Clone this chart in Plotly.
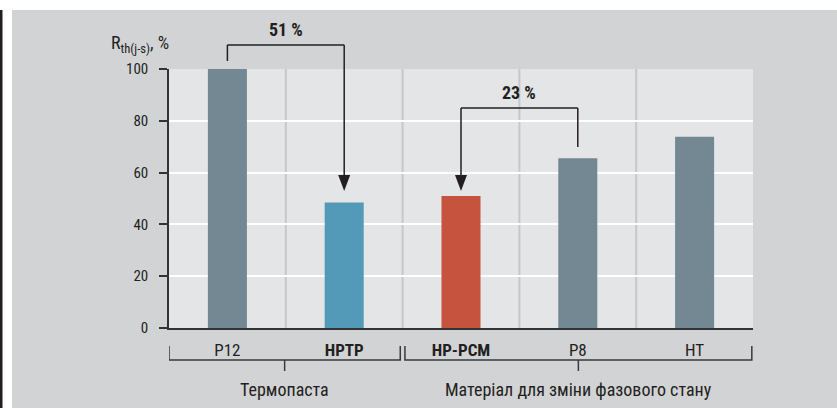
import plotly.graph_objects as go

# ---- data ----
categories = ["P12", "HPTP", "HP-PCM", "P8", "HT"]
tick_labels = ["P12", "<b>HPTP</b>", "<b>HP-PCM</b>", "P8", "HT"]
values = [100, 48.5, 51, 65.5, 73.8]
bar_colors = ["#738892", "#529ab8", "#c5533d", "#738892", "#738892"]
group_names = ["Термопаста", "Матеріал для зміни фазового стану"]
group_members = [[0, 1], [2, 3, 4]]
y_ticks = [0, 20, 40, 60, 80, 100]
comparisons = [  # (from index, to index, label)
    (0, 1, "51 %"),
    (3, 2, "23 %"),
]
bracket_levels = [109.3, 84.9]     # height of connecting line (data units)
start_levels = [103.1, 69.9]       # bottom of the non-arrow leg
tip_levels = [52.9, 52.9]          # arrow tip

W, H = 837, 408
ML, MR, MT, MB = 169, 84, 69, 80
PW, PH = W - ML - MR, H - MT - MB
YMAX = 100.0


def px_x(p):
    return (p - ML) / PW


def px_y(q):
    return (H - MB - q) / PH


def dy(v):  # data value -> paper fraction (so marks above the range are not clipped)
    return v / YMAX


FONT = "Liberation Sans Narrow, Roboto Condensed, Arial Narrow, sans-serif"
DARK = "#231f20"

fig = go.Figure()
fig.add_trace(go.Bar(
    x=categories, y=values, marker_color=bar_colors, marker_line_width=0,
    hoverinfo="skip", showlegend=False,
))

shapes = []
annotations = []

# vertical separators between categories
for i in range(len(categories) - 1):
    shapes.append(dict(type="line", xref="x", yref="paper", x0=i + 0.5, x1=i + 0.5,
                       y0=0, y1=1, line=dict(color="#c6c7ca", width=2), layer="between"))

# comparison brackets + arrows
for (a, b, lab), top, start, tip in zip(comparisons, bracket_levels, start_levels, tip_levels):
    ln = dict(color=DARK, width=1.5)
    shapes.append(dict(type="line", xref="x", yref="paper", x0=a, x1=a, y0=dy(start), y1=dy(top), line=ln))
    shapes.append(dict(type="line", xref="x", yref="paper", x0=a, x1=b, y0=dy(top), y1=dy(top), line=ln))
    shapes.append(dict(type="line", xref="x", yref="paper", x0=b, x1=b, y0=dy(top), y1=dy(tip) + 10 / PH, line=ln))
    shapes.append(dict(type="path", xref="x", yref="paper", xsizemode="pixel", ysizemode="pixel",
                       xanchor=b, yanchor=dy(tip), path="M-6,16 L6,16 L0,0 Z",
                       fillcolor=DARK, line=dict(width=0)))
    annotations.append(dict(xref="x", yref="paper", x=(a + b) / 2, y=dy(top), yshift=3,
                            text=f"<b>{lab}</b>", showarrow=False, yanchor="bottom",
                            font=dict(family=FONT, size=18, color=DARK)))

# group brackets under axis
gl = dict(color="#3a3a3c", width=1.5)
yb, yt, yc = px_y(360), px_y(346), px_y(371)
for gi, (name, mem) in enumerate(zip(group_names, group_members)):
    x0 = mem[0] - 0.5 + (0.02 if gi > 0 else 0)
    x1 = mem[-1] + 0.5 - (0.02 if gi < len(group_names) - 1 else 0.01)
    xm = (x0 + x1) / 2
    shapes.append(dict(type="path", xref="x", yref="paper",
                       path=f"M{x0},{yt} L{x0},{yb} L{x1},{yb} L{x1},{yt}", line=gl))
    shapes.append(dict(type="line", xref="x", yref="paper", x0=xm, x1=xm, y0=yb, y1=yc, line=gl))
    annotations.append(dict(xref="x", yref="paper", x=xm, y=px_y(389), text=name, showarrow=False,
                            yanchor="middle", font=dict(family=FONT, size=18, color=DARK)))

# y-axis title
annotations.append(dict(xref="paper", yref="paper", x=px_x(171), y=px_y(44),
                        text="R<sub>th(j-s)</sub>, %", showarrow=False, xanchor="right",
                        yanchor="middle", font=dict(family=FONT, size=18, color=DARK)))

# page frame: white strip on top, white margin and dark bar on the left
shapes.append(dict(type="rect", xref="paper", yref="paper", x0=px_x(-5), x1=px_x(W + 5),
                   y0=px_y(10), y1=px_y(-5), fillcolor="white", line=dict(width=0), layer="above"))
shapes.append(dict(type="rect", xref="paper", yref="paper", x0=px_x(-5), x1=px_x(12),
                   y0=px_y(H + 5), y1=px_y(-5), fillcolor="white", line=dict(width=0), layer="above"))
shapes.append(dict(type="rect", xref="paper", yref="paper", x0=px_x(-5), x1=px_x(2.5),
                   y0=px_y(H + 5), y1=px_y(10), fillcolor=DARK, line=dict(width=0), layer="above"))

fig.update_layout(
    width=W, height=H,
    margin=dict(l=ML, r=MR, t=MT, b=MB, pad=0),
    paper_bgcolor="#d2d3d5", plot_bgcolor="#e4e5e7",
    bargap=0.666,
    shapes=shapes, annotations=annotations,
    font=dict(family=FONT, color=DARK),
    xaxis=dict(
        type="category", categoryorder="array", categoryarray=categories,
        tickvals=categories, ticktext=tick_labels,
        range=[-0.5, len(categories) - 0.5],
        showgrid=False, zeroline=False, automargin=False,
        showline=True, linecolor="#333", linewidth=1.5,
        ticks="outside", ticklen=6, tickcolor="rgba(0,0,0,0)",
        tickfont=dict(family=FONT, size=17, color=DARK),
    ),
    yaxis=dict(
        range=[0, YMAX], tickvals=y_ticks,
        showgrid=True, gridcolor="white", gridwidth=2,
        zeroline=False, automargin=False,
        showline=True, linecolor="#333", linewidth=1.5,
        ticks="outside", ticklen=8, tickwidth=1.5, tickcolor="#333",
        ticklabelstandoff=8,
        tickfont=dict(family=FONT, size=15, color=DARK),
    ),
)

fig.write_html("out.html", config={"displayModeBar": False},
               post_script="document.body.style.margin='0';document.body.style.padding='0';")
